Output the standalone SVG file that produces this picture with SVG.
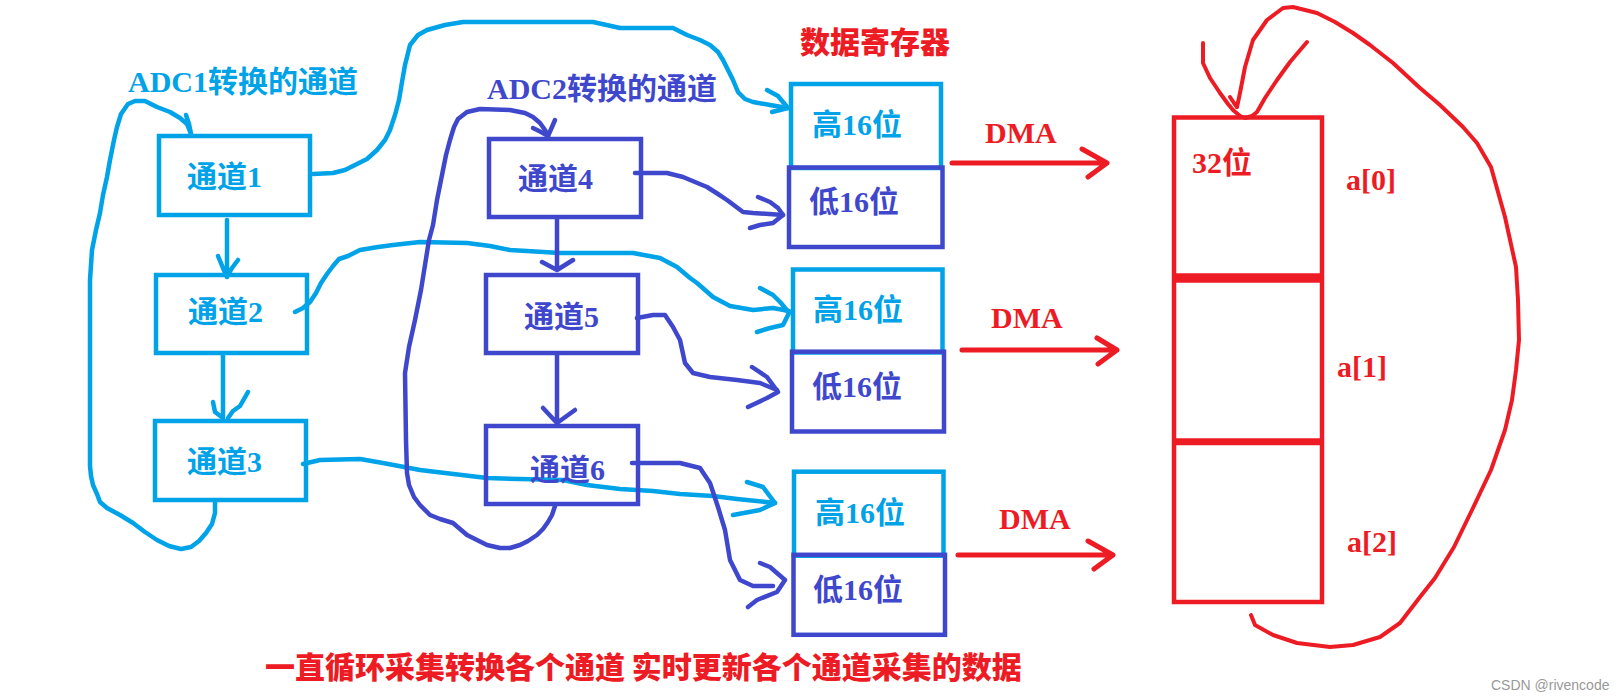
<svg xmlns="http://www.w3.org/2000/svg" width="1624" height="700" viewBox="0 0 1624 700">
<style>
.bg{fill:#ffffff}
.lb{stroke:#00A2E8}
.ib{stroke:#3F48CC}
.rd{stroke:#ED1C24}
.box{fill:none;stroke-width:4.5}
.wire{fill:none;stroke-width:4.5;stroke-linecap:round;stroke-linejoin:round}
.rwire{fill:none;stroke-width:4;stroke-linecap:round;stroke-linejoin:round}
.dma{fill:none;stroke-width:5;stroke-linecap:round;stroke-linejoin:round}
.t{font-family:"Liberation Serif","Noto Sans CJK SC",serif;font-weight:bold;font-size:30px}
.tb{fill:#00A2E8}
.ti{fill:#3F48CC}
.tr{fill:#ED1C24}
.title{font-family:"Noto Sans CJK SC","Liberation Sans",sans-serif;font-weight:900;font-size:30px;fill:#ED1C24}
.wm{font-family:"Liberation Sans","DejaVu Sans",sans-serif;font-size:14px;fill:#999999}
</style>
<rect class="bg" x="0" y="0" width="1624" height="700"/>

<g id="connectors">
  <!-- ADC1 loop -->
  <path class="wire lb" d="M215,502 L215,513 L212,524 L206,533 L199,541 L191,547 L181,549 L169,546 L157,540 L145,532 L133,523 L120,515 L107,508 L100,502 L97,494 L93,485 L91,476 L90,466 L90,280 L92,250 L96,230 L100,213 L103,195 L107,177 L110,160 L114,140 L117,127 L121,114 L128,104 L135,101 L145,101 L157,107 L170,112 L180,118 L187,124 L191,134"/>
  <path class="wire lb" d="M186,115 L189,124 L191,134"/>
  <!-- ch1 -> ch2, ch2 -> ch3 -->
  <path class="wire lb" d="M227,220 L227,277 M218,256 L223,268 L227,277 M238,260 L232,268 L227,277"/>
  <path class="wire lb" d="M223,355 L223,418 M213,402 L215,412 L223,418 M248,392 L244,399 L240,406 L233,411 L228,418"/>
  <!-- ch1 -> top high16 -->
  <path class="wire lb" d="M313,174 L333,173 L345,170 L355,165 L367,159 L377,150 L385,140 L390,130 L395,115 L399,100 L402,82 L405,65 L410,45 L418,35 L427,30 L445,25 L463,22 L530,22 L593,22 L620,28 L673,28 L687,35 L700,40 L710,45 L718,52 L723,60 L728,70 L733,80 L738,92 L745,99 L753,102 L770,105 L788,108"/>
  <path class="wire lb" d="M767,90 L778,96 L788,108 L772,112"/>
  <!-- ch2 -> mid high16 -->
  <path class="wire lb" d="M295,312 L303,308 L310,302 L316,293 L321,283 L327,274 L333,266 L339,259 L348,256 L360,250 L378,247 L393,245 L420,242 L467,243 L490,246 L510,250 L560,253 L633,253 L660,258 L677,267 L690,278 L697,283 L713,297 L730,306 L753,310 L773,308 L789,311"/>
  <path class="wire lb" d="M760,288 L773,295 L781,303 L789,313 L783,325 L770,328 L757,332"/>
  <!-- ch3 -> bottom high16 -->
  <path class="wire lb" d="M303,464 L320,460 L360,459 L383,463 L420,470 L487,478 L520,479 L563,480 L587,485 L620,489 L653,491 L680,494 L713,496 L737,499 L775,503"/>
  <path class="wire lb" d="M747,482 L763,487 L775,503 L760,510 L733,515"/>

  <!-- ADC2 loop -->
  <path class="wire ib" d="M555,506 L552,515 L548,522 L543,529 L537,535 L528,541 L520,545 L510,548 L500,548 L487,545 L477,540 L467,535 L453,523 L440,519 L430,515 L420,505 L414,497 L409,485 L407,473 L406,440 L405,373 L407,360 L409,347 L415,320 L421,290 L425,265 L429,240 L433,225 L437,200 L442,175 L446,155 L450,140 L454,127 L458,119 L467,112 L480,109 L510,110 L525,113 L533,117 L540,123 L545,130 L548,136"/>
  <path class="wire ib" d="M533,128 L541,132 L548,136 L552,127 L555,120"/>
  <!-- ch4 -> ch5, ch5 -> ch6 -->
  <path class="wire ib" d="M557,219 L557,270 M542,262 L557,270 L573,260"/>
  <path class="wire ib" d="M557,355 L557,423 M543,408 L557,423 L575,410"/>
  <!-- ch4 -> top low16 -->
  <path class="wire ib" d="M635,173 L667,173 L683,177 L695,182 L707,187 L718,194 L727,200 L735,206 L743,212 L753,213 L783,215"/>
  <path class="wire ib" d="M758,197 L770,202 L778,208 L783,215 L773,223 L760,225 L750,228"/>
  <!-- ch5 -> mid low16 -->
  <path class="wire ib" d="M637,318 L653,315 L665,315 L673,327 L680,340 L685,363 L693,373 L710,377 L737,380 L760,383 L777,390"/>
  <path class="wire ib" d="M752,367 L767,377 L778,392 L767,398 L748,407"/>
  <!-- ch6 -> bottom low16 -->
  <path class="wire ib" d="M632,463 L653,463 L680,463 L700,468 L710,483 L718,507 L725,530 L730,560 L740,580 L753,586 L773,586"/>
  <path class="wire ib" d="M760,563 L770,567 L785,580 L777,592 L757,600 L748,607"/>

  <!-- DMA arrows -->
  <path class="dma rd" d="M952,163 L1107,163 M1082,149 L1107,163 L1088,177"/>
  <path class="dma rd" d="M962,350 L1117,350 M1097,338 L1117,350 L1098,364"/>
  <path class="dma rd" d="M958,555 L1113,555 M1088,541 L1113,555 L1094,569"/>

  <!-- red loop -->
  <path class="rwire rd" d="M1251,615 L1255,625 L1273,635 L1297,643 L1330,647 L1353,645 L1380,637 L1400,623 L1420,597 L1435,578 L1454,547 L1472,510 L1491,470 L1505,430 L1512,400 L1516,370 L1519,340 L1518,300 L1516,267 L1505,217 L1491,167 L1477,143 L1463,127 L1440,105 L1420,88 L1393,63 L1370,45 L1353,33 L1335,22 L1317,13 L1293,7 L1283,8 L1267,20 L1253,40 L1245,67 L1240,93 L1237,107"/>
  <path class="rwire rd" d="M1230,97 L1234,103 L1237,107"/>
  <path class="rwire rd" d="M1203,43 L1203,63 L1210,78 L1220,93 L1228,104 L1233,110 L1240,116 L1245,118 L1252,116 L1257,112 L1265,98 L1277,80 L1290,62 L1307,42"/>
</g>

<g id="label-adc1"><text class="t tb" x="128" y="92">ADC1转换的通道</text></g>
<g id="label-adc2"><text class="t ti" x="487" y="99">ADC2转换的通道</text></g>
<g id="label-reg"><text class="title" x="800" y="53" font-family="Noto Sans CJK SC, sans-serif">数据寄存器</text></g>

<g id="ch1"><rect class="box lb" x="159" y="136" width="151" height="79"/><text class="t tb" x="187" y="187">通道1</text></g>
<g id="ch2"><rect class="box lb" x="156" y="275" width="151" height="78"/><text class="t tb" x="188" y="322">通道2</text></g>
<g id="ch3"><rect class="box lb" x="155" y="421" width="151" height="79"/><text class="t tb" x="187" y="472">通道3</text></g>

<g id="ch4"><rect class="box ib" x="489" y="139" width="152" height="78"/><text class="t ti" x="518" y="189">通道4</text></g>
<g id="ch5"><rect class="box ib" x="486" y="275" width="152" height="78"/><text class="t ti" x="524" y="327">通道5</text></g>
<g id="ch6"><rect class="box ib" x="486" y="426" width="152" height="78"/><text class="t ti" x="530" y="480">通道6</text></g>

<g id="reg1-high"><rect class="box lb" x="791" y="84" width="150" height="84"/><text class="t tb" x="812" y="135">高16位</text></g>
<g id="reg1-low"><rect class="box ib" x="789" y="167.5" width="153.5" height="79.5"/><text class="t ti" x="809" y="212">低16位</text></g>
<g id="reg2-high"><rect class="box lb" x="793" y="269.5" width="149.5" height="83"/><text class="t tb" x="813" y="320">高16位</text></g>
<g id="reg2-low"><rect class="box ib" x="792" y="351.7" width="152" height="79.8"/><text class="t ti" x="812" y="397">低16位</text></g>
<g id="reg3-high"><rect class="box lb" x="794" y="471.7" width="149.5" height="84"/><text class="t tb" x="815" y="523">高16位</text></g>
<g id="reg3-low"><rect class="box ib" x="793.5" y="554.8" width="151.5" height="80"/><text class="t ti" x="813" y="600">低16位</text></g>

<g id="dma-labels">
  <text class="t tr" x="985" y="143">DMA</text>
  <text class="t tr" x="991" y="328">DMA</text>
  <text class="t tr" x="999" y="529">DMA</text>
</g>

<g id="array">
  <rect class="rd" fill="none" stroke-width="4.5" x="1174" y="117.5" width="148" height="484.5"/>
  <line class="rd" stroke-width="9.5" x1="1174" y1="278" x2="1322" y2="278"/>
  <line class="rd" stroke-width="7" x1="1174" y1="441.7" x2="1322" y2="441.7"/>
  <text class="t tr" x="1192" y="173">32位</text>
</g>
<g id="array-labels">
  <text class="t tr" x="1346" y="190">a[0]</text>
  <text class="t tr" x="1337" y="377">a[1]</text>
  <text class="t tr" x="1347" y="552">a[2]</text>
</g>

<g id="caption"><text class="title" x="265" y="678">一直循环采集转换各个通道 实时更新各个通道采集的数据</text></g>
<g id="watermark"><text class="wm" x="1491" y="690">CSDN @rivencode</text></g>
</svg>
